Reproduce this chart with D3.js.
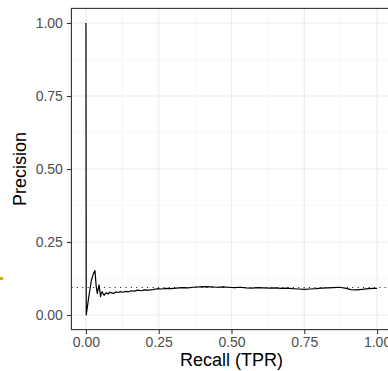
<!DOCTYPE html>
<html><head><meta charset="utf-8">
<script src="https://cdn.jsdelivr.net/npm/d3@7"></script>
<style>html,body{margin:0;padding:0;background:#fff;overflow:hidden}</style>
</head><body>
<svg id="c" width="388" height="371"></svg>
<script>
const recall = [0,0.001,0.008,0.014,0.019,0.025,0.031,0.035,0.039,0.042,0.045,0.048,0.050,0.053,0.056,0.060,0.063,
0.067,0.071,0.076,0.082,0.088,0.095,0.102,0.110,0.118,0.127,0.136,0.145,0.155,0.166,0.178,0.19,0.2,0.215,0.23,0.245,
0.26,0.275,0.29,0.31,0.33,0.35,0.37,0.39,0.41,0.43,0.45,0.47,0.49,0.51,0.53,0.55,0.57,0.59,0.61,0.63,
0.65,0.67,0.69,0.71,0.73,0.75,0.77,0.79,0.81,0.83,0.85,0.87,0.89,0.91,0.93,0.95,0.97,0.99,1.0];
const precision = [1.0,0.0,0.05,0.09,0.12,0.14,0.152,0.10,0.074,0.09,0.103,0.08,0.063,0.075,0.08,0.07,0.068,
0.074,0.076,0.072,0.078,0.076,0.074,0.079,0.077,0.08,0.078,0.081,0.079,0.083,0.082,0.085,0.083,0.086,0.085,0.087,0.09,
0.089,0.091,0.09,0.092,0.094,0.093,0.095,0.096,0.097,0.096,0.095,0.096,0.095,0.094,0.095,0.093,0.092,0.094,0.093,0.092,
0.093,0.091,0.092,0.09,0.089,0.088,0.089,0.09,0.092,0.093,0.094,0.095,0.092,0.087,0.086,0.088,0.09,0.091,0.091];
const baseline = 0.094;
const xTicks = [0,0.25,0.5,0.75,1.0];
const yTicks = [0,0.25,0.5,0.75,1.0];
const xMinor = [0.125,0.375,0.625,0.875];
const yMinor = [0.125,0.375,0.625,0.875];
const xTitle = "Recall (TPR)";
const yTitle = "Precision";

const svg = d3.select("#c");
const x = d3.scaleLinear().domain([-0.05,1.05]).range([71.4,391.6]);
const y = d3.scaleLinear().domain([-0.05,1.05]).range([329.6,8.4]);
const L=x.range()[0], R=x.range()[1], T=y.range()[1], B=y.range()[0];
const font = "'Liberation Sans', Arial, sans-serif";

// stray orange mark from neighbouring panel
svg.append("rect").attr("x",0).attr("y",277).attr("width",3).attr("height",3).attr("fill","#E69F00");

const g = svg.append("g");
// minor grid
g.selectAll(".mx").data(xMinor).join("line").attr("x1",d=>x(d)).attr("x2",d=>x(d)).attr("y1",T).attr("y2",B)
 .attr("stroke","#F2F2F2").attr("stroke-width",0.6);
g.selectAll(".my").data(yMinor).join("line").attr("y1",d=>y(d)).attr("y2",d=>y(d)).attr("x1",L).attr("x2",R)
 .attr("stroke","#F2F2F2").attr("stroke-width",0.6);
// major grid
g.selectAll(".gx").data(xTicks).join("line").attr("x1",d=>x(d)).attr("x2",d=>x(d)).attr("y1",T).attr("y2",B)
 .attr("stroke","#EBEBEB").attr("stroke-width",1.1);
g.selectAll(".gy").data(yTicks).join("line").attr("y1",d=>y(d)).attr("y2",d=>y(d)).attr("x1",L).attr("x2",R)
 .attr("stroke","#EBEBEB").attr("stroke-width",1.1);

// baseline
g.append("line").attr("x1",L).attr("x2",R).attr("y1",y(baseline)).attr("y2",y(baseline))
 .attr("stroke","#333").attr("stroke-width",1.1).attr("stroke-dasharray","1.2,4.2");

// curve
const pts = recall.map((r,i)=>[r,precision[i]]);
g.append("path").datum(pts).attr("d",d3.line().x(d=>x(d[0])).y(d=>y(d[1])))
 .attr("fill","none").attr("stroke","#000").attr("stroke-width",1.2).attr("stroke-linejoin","round");

// border
g.append("rect").attr("x",L).attr("y",T).attr("width",R-L).attr("height",B-T)
 .attr("fill","none").attr("stroke","#333").attr("stroke-width",1.1);

// axes
const xa = svg.append("g").attr("transform",`translate(0,${B})`)
 .call(d3.axisBottom(x).tickValues(xTicks).tickFormat(d3.format(".2f")).tickSize(4.5).tickPadding(3));
const ya = svg.append("g").attr("transform",`translate(${L},0)`)
 .call(d3.axisLeft(y).tickValues(yTicks).tickFormat(d3.format(".2f")).tickSize(4.5).tickPadding(4));
[xa,ya].forEach(a=>{
  a.select(".domain").remove();
  a.selectAll(".tick line").attr("stroke","#333").attr("stroke-width",1.1);
  a.selectAll(".tick text").attr("fill","#4D4D4D").style("font-family",font).style("font-size","14px");
});

svg.append("text").attr("x",(x(0)+x(1))/2).attr("y",366).attr("text-anchor","middle")
 .style("font-family",font).style("font-size","18px").attr("fill","#000").text(xTitle);
svg.append("text").attr("transform",`translate(25.5,${(T+B)/2}) rotate(-90)`).attr("text-anchor","middle")
 .style("font-family",font).style("font-size","18px").attr("fill","#000").text(yTitle);
</script>
</body></html>
